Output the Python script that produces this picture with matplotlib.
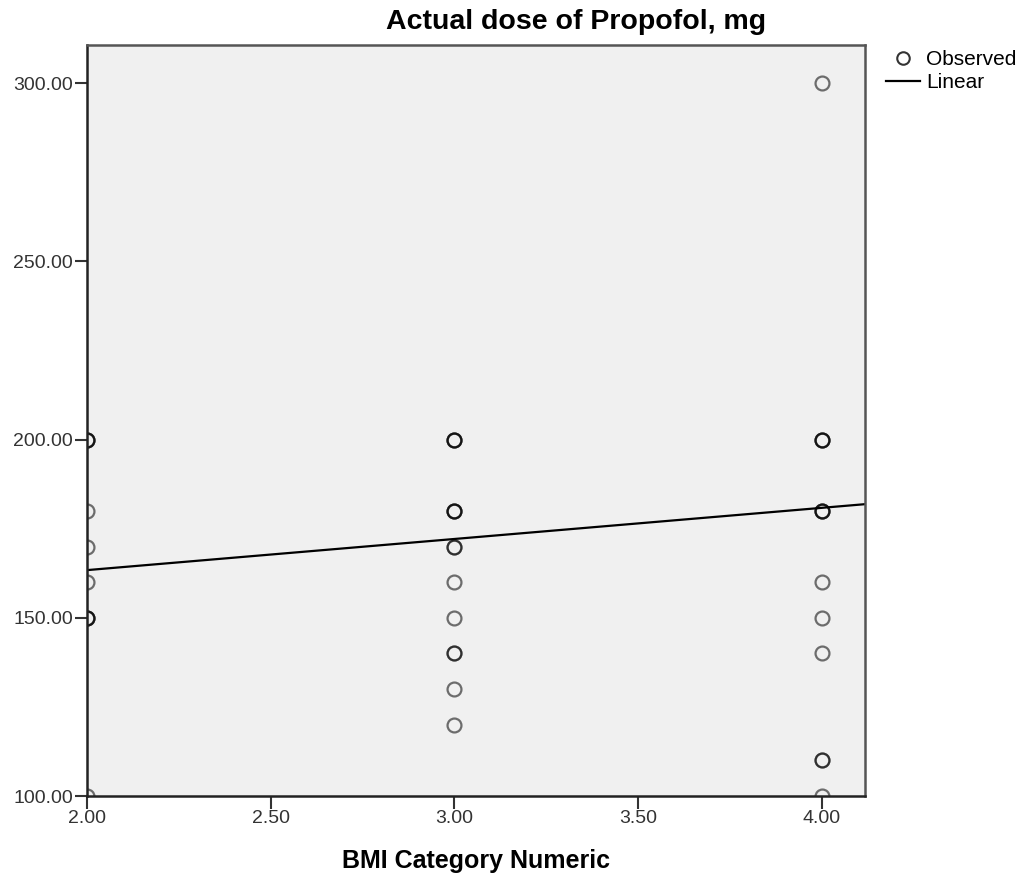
import matplotlib.pyplot as plt
import numpy as np

plt.rcParams['font.family'] = ['Liberation Sans', 'DejaVu Sans']

# observed cases (repeated values overlap and show darker)
obs_x = [2, 2, 2, 2, 2, 2, 2, 2, 2, 2,
         3, 3, 3, 3, 3, 3, 3, 3, 3, 3, 3, 3, 3, 3,
         4, 4, 4, 4, 4, 4, 4, 4, 4, 4, 4, 4, 4]
obs_y = [200, 200, 200, 180, 170, 160, 150, 150, 150, 100,
         200, 200, 200, 180, 180, 180, 170, 170, 160, 150, 140, 140, 130, 120,
         300, 200, 200, 200, 180, 180, 180, 160, 150, 140, 110, 110, 100]

# linear fit as shown in the chart
lin_intercept = 145.9
lin_slope = 8.74

xticks = [2.0, 2.5, 3.0, 3.5, 4.0]
yticks = [100, 150, 200, 250, 300]

fig = plt.figure(figsize=(10.21, 8.83), dpi=100)
ax = fig.add_axes([0.0852, 0.0985, 0.7620, 0.8505])
ax.set_facecolor('#f0f0f0')

ax.plot(obs_x, obs_y, 'o', ms=10, mfc='none', mec='black', mew=1.6,
        alpha=0.55, label='Observed')
xl = np.array([2.0, 4.117])
ax.plot(xl, lin_intercept + lin_slope * xl, color='black', lw=1.6, label='Linear')

ax.set_xlim(2.0, 4.117)
ax.set_ylim(100, 310.7)
ax.set_xticks(xticks)
ax.set_xticklabels(['%.2f' % v for v in xticks])
ax.set_yticks(yticks)
ax.set_yticklabels(['%.2f' % v for v in yticks])
ax.tick_params(labelsize=14, length=9, width=1.5, pad=1, color='#333333',
               labelcolor='#333333')
for s in ['left', 'bottom']:
    ax.spines[s].set_color('#222222')
    ax.spines[s].set_linewidth(1.8)
for s in ['top', 'right']:
    ax.spines[s].set_color('#555555')
    ax.spines[s].set_linewidth(1.8)

ax.set_xlabel('BMI Category Numeric', fontsize=18, fontweight='bold', labelpad=16)
fig.text(0.564, 0.975, 'Actual dose of Propofol, mg', fontsize=20.5, fontweight='bold',
         ha='center', va='center')

h, l = ax.get_legend_handles_labels()
h[0] = plt.Line2D([], [], ls='none', marker='o', ms=9, mfc='none', mec='#333333', mew=1.5)
fig.legend(h, l, loc='upper left', bbox_to_anchor=(0.868, 0.943), frameon=False,
           fontsize=15, handlelength=1.6, handletextpad=0.3, labelspacing=0.2,
           borderaxespad=0, borderpad=0)

plt.savefig('out.png', dpi=100)
